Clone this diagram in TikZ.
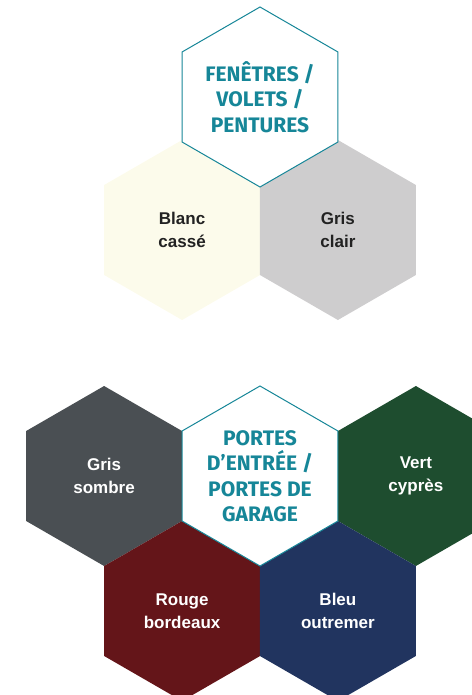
\documentclass[tikz,border=0pt]{standalone}
\usepackage{fontspec}
\setmainfont{Liberation Sans}
\newfontfamily\titlefont{Fira Sans}
\usetikzlibrary{shapes.geometric}
\definecolor{teal}{RGB}{22,134,152}
\definecolor{blanccasse}{RGB}{252,251,235}
\definecolor{grisclair}{RGB}{206,205,206}
\definecolor{grissombre}{RGB}{74,79,83}
\definecolor{vertcypres}{RGB}{30,77,47}
\definecolor{rougebordeaux}{RGB}{100,21,25}
\definecolor{bleuoutremer}{RGB}{33,52,95}
\definecolor{textdark}{RGB}{34,34,34}
\tikzset{
    hex/.style={
    regular polygon,regular polygon sides=6,shape border rotate=30,
    minimum size=180bp,inner sep=0pt,align=center
    },
    lighthex/.style={
    hex,draw=none,text=textdark,
    font=\bfseries\fontsize{17bp}{22.5bp}\selectfont
    },
    darkhex/.style={
    hex,draw=none,text=white,
    font=\bfseries\fontsize{17bp}{22.5bp}\selectfont
    },
    titlehex/.style={
    hex,draw=teal,line width=1bp,fill=white,text=teal,
    font=\titlefont\bfseries\fontsize{21bp}{25.5bp}\selectfont
    },
}
\begin{document}
\begin{tikzpicture}[x=1bp,y=-1bp]
   \useasboundingbox (0,0) rectangle (472,695);
   \clip (0,0) rectangle (472,695);
   % first group
   \node[lighthex,fill=blanccasse] (blanc) at (182.1,230) {Blanc\\cassé};
   \node[lighthex,fill=grisclair] (grisc) at (337.9,230) {Gris\\clair};
   \node[titlehex] (fen) at (260,97) {FENÊTRES /\\VOLETS /\\PENTURES};
   % second group
   \node[darkhex,fill=grissombre] (griss) at (104.1,476) {Gris\\sombre};
   \node[darkhex,fill=vertcypres] (vert) at (415.9,476) {Vert\\cyprès};
   \node[darkhex,fill=rougebordeaux] (rouge) at (182.1,611) {Rouge\\bordeaux};
   \node[darkhex,fill=bleuoutremer] (bleu) at (337.9,611) {Bleu\\outremer};
   \node[titlehex] (portes) at (260,476) {PORTES\\D’ENTRÉE /\\PORTES DE\\GARAGE};
\end{tikzpicture}
\end{document}
